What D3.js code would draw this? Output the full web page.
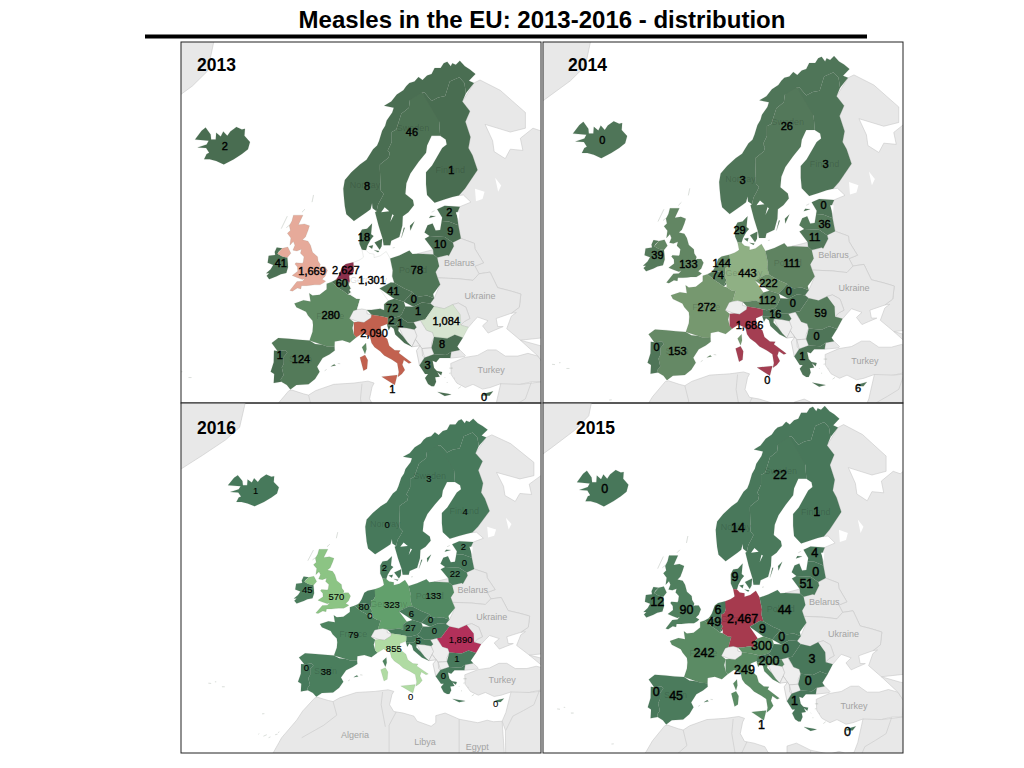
<!DOCTYPE html>
<html>
<head>
<meta charset="utf-8">
<title>Measles in the EU</title>
<script src="https://cdn.jsdelivr.net/npm/d3@7"></script>
<style>
    body { margin: 0; background: #fff; }
    svg { display: block; font-family: "Liberation Sans", Arial, sans-serif; }
</style>
</head>
<body>
<svg id="chart" width="1024" height="768"></svg>
<script>
// cases per country (null = no label shown)
const countries = ["Iceland", "Norway", "Sweden", "Finland", "Denmark", "Ireland", "UK", "Netherlands", "Belgium", "Luxembourg",
    "France", "Spain", "Portugal", "Germany", "Poland", "Czechia", "Slovakia", "Austria", "Hungary", "Slovenia", "Croatia",
    "Italy", "Romania", "Bulgaria", "Greece", "Estonia", "Latvia", "Lithuania", "Malta", "Cyprus"];
const cases2013 = [2, 8, 46, 1, 18, 41, 1669, 2627, 60, null, 280, 124, 1, 1301, 78, 41, 0, 72, 1, 2, 1, 2090, 1084, 8, 3, 2, 9, 10, 1, 0];
const cases2014 = [0, 3, 26, 3, 29, 39, 133, 144, 74, null, 272, 153, 0, 443, 111, 222, 0, 112, 0, null, 16, 1686, 59, 0, 1, 0, 36, 11, 0, 6];
const cases2015 = [0, 14, 22, 1, 9, 12, 90, 6, 49, null, 242, 45, 0, 2467, 44, 9, 0, 300, 0, null, 200, 249, 3, 0, 1, 4, 0, 51, 1, 0];
const cases2016 = [1, 0, 3, 4, 2, 45, 570, null, 80, 0, 79, 38, 0, 323, 133, 6, 0, 27, 0, null, 5, 855, 1890, 1, 0, 2, 0, 22, 0, 0];

// where each number sits on the map, lon / lat
const labelLon = [-18.6, 9.6, 18.5, 26.3, 9, -7.5, -1.3, 5.4, 4.6, 5.9, 2.4, -3.5, -7.7, 10.6, 19.5, 14.8, 18.9, 14.6, 19.7, 14.4, 16.2, 11, 25.3, 24.5, 21.6, 25.9, 26.1, 24.1, 14.6, 32.8];
const labelLat = [65, 61.4, 66.1, 62.9, 56.3, 53.4, 52.4, 52.5, 51, 49.7, 46.8, 40.6, 41.2, 51.3, 52.5, 50, 49, 47.8, 47.4, 46.2, 45.8, 44.4, 46, 42.8, 39.8, 58.9, 56.9, 55.5, 36, 34.8];

// map names printed in grey under the numbers
const greyNames = ["Belarus", "Ukraine", "Turkey", "Algeria", "Libya", "Egypt", "Iraq"];
const greyLon = [27.9, 32, 34.2, 2.7, 17.7, 28.9, 42.9];
const greyLat = [53.4, 49.4, 39, 28.6, 27.2, 26, 33.4];
const faintNames = ["Sweden", "Norway", "Finland", "Poland", "France", "Germany", "Spain"];
const faintLon = [18.7, 9.2, 26.1, 18.7, 2.3, 9.9, -3.6];
const faintLat = [66.4, 61.5, 62.9, 52.5, 46.8, 51.3, 40.6];

// country outlines, lon / lat rings
const iceland = [[[-24.5,65.5],[-23.2,66.2],[-22.4,66.45],[-21.4,65.9],[-21.3,65.5],[-20.4,65.5],[-20.3,66.05],[-19.4,65.75],[-18.9,66.15],[-18.1,65.8],[-17.5,66.15],[-16.3,66.5],[-15.2,66.3],[-14.6,66.35],[-14.7,65.8],[-13.6,65.3],[-14,64.7],[-15.2,64.3],[-16.8,63.85],[-18.8,63.4],[-20.3,63.7],[-21.6,63.85],[-22.7,63.85],[-22.2,64.3],[-21.7,64.4],[-22.3,64.8],[-24,64.85],[-22.2,65.1],[-21.8,65.4],[-22.8,65.5]]];
const noSeBorder = [[20.5,69.05],[20,68.4],[18.1,68.5],[17.9,67.95],[16.4,67.5],[15.4,66.3],[14.5,66.1],[14.5,65.3],[13.7,64.6],[14.1,64.4],[13.9,64],[12.15,63.4],[12.15,63],[12.3,61.05],[12.9,60.7],[12.5,60.3],[11.8,59.7],[11.5,59]];
const fiSeBorder = [[20.5,69.05],[23.6,67.9],[23.9,66.9],[24.1,65.8]];
const noFiBorder = [[20.5,69.05],[21,69.05],[22.4,68.45],[23.7,68.7],[25.1,68.8],[26,69.8],[27.9,70.08],[28.9,69.7],[29.2,69],[30.8,69.7]];
const norway = [[[7,58],[5.5,58.7],[5.2,59.5],[5,60.5],[4.9,61.2],[5.2,62],[6.5,62.7],[8.2,63.4],[9.5,63.8],[10.8,64.7],[11.6,65],[12,65.4],[12.6,66.2],[13.2,66.6],[13.5,67],[14.6,67.6],[14.9,67.95],[13,68.1],[14.4,68.4],[15.5,68.9],[16.8,69.2],[17.4,69.5],[18,69.7],[19,69.8],[19.8,70.1],[20.6,69.9],[21.5,70.2],[22.4,70.3],[23,70.7],[24.2,70.7],[24.8,71],[25.5,71.1],[26.2,70.8],[26.5,71],[27.2,70.9],[28,71.15],[29,70.8],[30,70.6],[31.1,70.3],[29.8,69.85],[30.8,69.7],
    ...noFiBorder.slice().reverse().slice(1), ...noSeBorder.slice(1), [10.7,59.3],[10.6,59.8],[10.3,59.2],[9.5,58.9],[8.2,58.1]]];
const sweden = [[...fiSeBorder, [22.4,65.8],[21.5,65],[21.3,64.4],[19.8,63.6],[18.2,62.6],[17.4,61.7],[17.2,60.7],[18.7,60.1],[18.9,59.6],[17.8,58.9],[16.7,58.5],[16.6,57.5],[16,56.3],[14.4,55.9],[14.2,55.4],[12.9,55.4],[12.7,56.1],[11.9,57.5],[11.2,58.9],
    ...noSeBorder.slice().reverse().slice(0, -1)], [[18.2,57],[18.1,57.5],[19,57.95],[18.8,57.4]], [[16.4,56.2],[16.9,57.3],[17.1,57.3],[16.5,56.2]]];
const finland = [[...noFiBorder.slice(0, -1), [28.5,68.4],[30,67.7],[29.1,66.9],[30.1,65.7],[29.7,64.8],[30.5,64.2],[31.5,62.9],[29,61.2],[27.8,60.55],[26.5,60.4],[24.9,60.15],[23,59.85],[21.5,60.6],[21.3,61.6],[21.3,62.7],[22.5,63.3],[24.5,64.8],[25.4,65.1],[25.2,65.5],
    ...fiSeBorder.slice().reverse().slice(0, -1)]];
const denmark = [[[8.1,55.55],[8.1,56.6],[8.6,57.1],[9.6,57.2],[10.6,57.75],[10.4,56.6],[10.9,56.4],[10.3,56],[9.7,55.4],[9.4,54.85],[8.6,54.9],[8.6,55.4]], [[11.1,55.7],[12.6,56.1],[12.5,55.3],[12.1,54.9],[11.2,55.2]], [[9.9,55.3],[10.8,55.4],[10.6,55],[10,55]], [[11,54.85],[12,54.75],[11.8,54.6],[11.1,54.7]], [[14.7,55.1],[15.1,55.15],[15,54.98]]];
const irishBorder = [[-7.2,55.05],[-7.9,54.7],[-8.15,54.45],[-7.3,54.15],[-6.6,54.05],[-6.2,54]];
const ireland = [[...irishBorder, [-6.1,53.4],[-6.05,52.9],[-6.4,52.2],[-7.5,52.05],[-8.3,51.8],[-9.8,51.45],[-10.3,51.85],[-9.8,52.15],[-10.4,52.15],[-9.5,52.65],[-9,53.15],[-10.1,53.4],[-9.9,54.2],[-8.6,54.3],[-8.7,54.65],[-8.3,55.15],[-7.3,55.35]]];
const uk = [[[-5.7,50.05],[-5.2,49.96],[-4.2,50.35],[-3.5,50.25],[-3.4,50.65],[-2.4,50.65],[-1.5,50.7],[-0.8,50.75],[0.3,50.75],[1,51],[1.4,51.2],[0.7,51.45],[1.3,51.8],[1.75,52.5],[1.3,52.95],[0.5,52.95],[0.2,52.85],[0.35,53.2],[-0.1,53.6],[-0.2,54.1],[-1.2,54.6],[-1.6,55.4],[-2.1,55.85],[-3.2,56],[-2.6,56.3],[-2.1,57],[-1.8,57.5],[-2.8,57.7],[-4,57.6],[-3.1,58.6],[-5,58.6],[-5.3,58],[-5.8,57.5],[-5.6,57],[-6.2,56.7],[-5.5,56.2],[-5.7,55.4],[-5,55.8],[-4.7,55.4],[-5.1,54.85],[-4.3,54.75],[-3.4,54.95],[-3.6,54.5],[-2.9,54.1],[-3.05,53.5],[-3.2,53.35],[-4.5,53.4],[-4.7,53.25],[-4.2,52.9],[-4.15,52.4],[-5.25,51.9],[-4.3,51.65],[-3.2,51.4],[-2.7,51.55],[-3.2,51.2],[-4.3,51.15],[-5.1,50.4]],
    [[-7.2,55.05],[-6.1,55.2],[-5.5,54.5],[-6.2,54],...irishBorder.slice(1, -1).reverse()], [[-7.4,57.2],[-6.2,58.5],[-6.9,58.3]], [[-1.3,59.9],[-1,60.6],[-1.5,60.4]], [[-3.3,58.9],[-2.7,59.2],[-3.2,59.1]], [[-6.4,57.3],[-5.7,57.6],[-5.9,57.1]]];
const netherlands = [[[3.4,51.37],[3.7,51.6],[4.1,52],[4.7,52.95],[5.4,53.25],[6.9,53.45],[7.2,53.2],[7,52.4],[6.7,52],[6.1,51.85],[6.2,51.2],[6,50.75],[5.85,51.15],[5,51.45],[4.3,51.35]]];
const belgium = [[[2.55,51.1],[3.4,51.37],[4.3,51.35],[5,51.45],[5.85,51.15],[6,50.75],[6.4,50.3],[6.1,50.1],[5.8,49.55],[4.85,50],[4.2,50.25],[3.2,50.75]]];
const luxembourg = [[[5.8,49.55],[6.1,50.1],[6.4,49.85],[6.4,49.45]]];
const france = [[[-1.8,43.35],[-1.2,44.6],[-1.1,45.5],[-1.2,46.1],[-2.1,46.8],[-2.5,47.3],[-4.4,47.9],[-4.8,48.4],[-3,48.8],[-1.6,48.65],[-1.85,49.7],[-1.2,49.4],[0.2,49.5],[1.6,50.2],[1.6,50.9],[2.55,51.1],[3.2,50.75],[4.2,50.25],[4.85,50],[5.8,49.55],[6.4,49.45],[7.5,49],[8.2,48.97],[7.6,47.6],[6.9,47.45],[6.1,46.4],[7,45.9],[6.7,45.1],[7,44.2],[7.5,43.8],[6.2,43.05],[4.7,43.4],[3.2,43.2],[3.15,42.45],[1.7,42.5],[0.7,42.75],[-0.7,42.85]],
    [[8.6,42.4],[9.4,43],[9.5,42.1],[9.2,41.4],[8.7,41.7]]];
const spain = [[[-9.3,43],[-8,43.7],[-5.8,43.6],[-3.8,43.45],[-1.8,43.35],[-0.7,42.85],[0.7,42.75],[1.7,42.5],[3.15,42.45],[3.2,41.9],[2.2,41.35],[0.8,40.8],[-0.3,39.5],[0.2,38.75],[-0.7,37.65],[-2,36.8],[-4.4,36.7],[-5.6,36],[-6.3,36.7],[-7.4,37.2],[-7.5,37.6],[-6.95,38.2],[-7.3,39.4],[-6.9,40],[-6.9,41],[-6.2,41.6],[-6.6,41.95],[-8.15,41.85],[-8.85,41.9]],
    [[2.4,39.55],[3.1,39.9],[3.4,39.7],[3,39.3]], [[3.8,40],[4.3,39.95],[3.9,39.9]], [[1.2,38.9],[1.6,39.1],[1.5,38.9]], [[-18,28.7],[-17.8,28.8],[-17.8,28.5]], [[-16.9,28.3],[-16.2,28.6],[-16.6,28]], [[-15.8,28],[-15.4,28.15],[-15.5,27.8]], [[-14.4,28.6],[-13.9,28.7],[-14.2,28.1]], [[-13.8,29],[-13.5,29.2],[-13.6,28.9]]];
const portugal = [[[-8.85,41.9],[-8.15,41.85],[-6.6,41.95],[-6.2,41.6],[-6.9,41],[-6.9,40],[-7.3,39.4],[-6.95,38.2],[-7.5,37.6],[-7.4,37.2],[-8.9,37],[-8.8,38.4],[-9.5,38.75],[-8.9,40.2],[-8.7,41]],
    [[-28.7,38.5],[-28.1,38.45],[-28.5,38.4]], [[-25.8,37.85],[-25.2,37.85],[-25.5,37.72]], [[-27.3,38.75],[-27,38.75],[-27.1,38.65]], [[-17.2,32.75],[-16.7,32.78],[-16.9,32.63]]];
const germany = [[[6.9,53.45],[8,53.7],[8.6,53.9],[8.9,54.05],[8.6,54.9],[9.4,54.85],[10,54.5],[11,54.4],[11,54],[12.2,54.2],[13.4,54.7],[14.2,53.9],[14.4,53.3],[14.7,52.5],[14.6,51.8],[15,51],[14.3,51.05],[12.1,50.3],[13.8,48.75],[13,48.3],[13,47.5],[12.2,47.7],[10.5,47.55],[9.6,47.55],[8.6,47.7],[7.6,47.6],[8.2,48.97],[7.5,49],[6.4,49.45],[6.4,49.85],[6.1,50.1],[6.4,50.3],[6,50.75],[6.2,51.2],[6.1,51.85],[6.7,52],[7,52.4],[7.2,53.2]]];
const poland = [[[14.2,53.9],[16,54.25],[18,54.8],[18.6,54.4],[19.6,54.45],[22.8,54.35],[23.5,54],[23.9,53],[23.2,52.3],[23.6,51.6],[24.1,50.8],[22.7,49.6],[22.9,49.05],[21.5,49.4],[20,49.3],[19,49.45],[18.6,49.85],[17,50.3],[15,51],[14.6,51.8],[14.7,52.5],[14.4,53.3]]];
const czechia = [[[12.1,50.3],[14.3,51.05],[15,51],[17,50.3],[18.6,49.85],[17.2,48.85],[16.9,48.6],[15,49],[13.8,48.75]]];
const slovakia = [[[16.9,48.6],[17.2,48.85],[18.6,49.85],[19,49.45],[20,49.3],[21.5,49.4],[22.9,49.05],[22.15,48.4],[20.5,48.5],[18.8,47.95],[17.2,48]]];
const austria = [[[9.6,47.55],[10.5,47.55],[12.2,47.7],[13,47.5],[13,48.3],[13.8,48.75],[15,49],[16.9,48.6],[17.2,48],[16.5,47],[16,46.7],[14.5,46.4],[12.4,46.7],[10.5,46.9],[9.6,47.05]]];
const hungary = [[[16,46.7],[16.5,47],[17.2,48],[18.8,47.95],[20.5,48.5],[22.15,48.4],[22.9,48],[21.1,46.25],[20.2,46.15],[18.8,45.9],[17.6,45.9],[16.4,46.5]]];
const slovenia = [[[13.7,46.5],[14.5,46.4],[16,46.7],[16.4,46.5],[15.3,45.5],[13.6,45.5],[13.7,45.7]]];
const croatia = [[[13.6,45.5],[15.3,45.5],[16.4,46.5],[17.6,45.9],[18.8,45.9],[19.4,45.2],[19,44.9],[17.5,45.1],[15.9,45.2],[15.8,44.7],[16.8,43.9],[17.6,43.1],[18.5,42.45],[17,43],[15.2,44.2],[14.9,45],[14.3,45.3],[13.9,44.8],[13.55,45.2]]];
const italy = [[[7,45.9],[7.9,45.95],[9,45.85],[10.4,46.5],[10.5,46.9],[12.4,46.7],[13.7,46.5],[13.7,45.7],[12.3,45.3],[12.4,44.3],[13.6,43.55],[14,42.6],[15.1,41.95],[16.2,41.9],[15.9,41.55],[18.4,40.15],[17.9,40],[16.9,40.5],[16.6,39.8],[17.1,39],[16.5,38.4],[15.7,37.95],[15.9,38.7],[15.6,40.05],[14.5,40.6],[13,41.2],[12.2,41.8],[11.1,42.4],[10.5,43],[10.2,43.9],[8.8,44.4],[7.5,43.8],[7,44.2],[6.7,45.1]],
    [[12.5,38],[15.6,38.25],[15.1,36.7],[12.5,37.6]], [[8.2,40.9],[9.2,41.25],[9.75,40.5],[9.6,39.2],[8.9,38.9],[8.4,39.2]]];
const romania = [[[20.25,46.15],[21.1,46.25],[22.9,48],[24.9,47.7],[26.6,48.25],[28.1,46.9],[28.2,45.5],[29.7,45.2],[28.6,43.75],[27,44.15],[25.5,43.65],[22.9,43.85],[22.6,44.5],[21.4,44.8],[20.75,45.5]]];
const bulgaria = [[[22.9,43.85],[25.5,43.65],[27,44.15],[28.6,43.75],[27.5,42.5],[28,42],[26.3,41.75],[25.3,41.25],[22.9,41.35],[22.4,42.3],[22.4,43]]];
const greece = [[[20,39.7],[21,40.85],[22.9,41.35],[25.3,41.25],[26.3,41.75],[26.1,40.8],[24,40.8],[23.3,40.2],[22.6,40.4],[22.9,39.3],[23.4,38.9],[24,38],[23.1,37.9],[23.3,37.2],[22.9,36.5],[22.4,36.5],[21.7,36.85],[21.1,37.8],[21.7,38.4],[21.1,38.4],[20.7,38.9]],
    [[23.6,35.6],[25.7,35.3],[26.3,35.2],[25,34.95],[23.6,35.25]], [[27.7,36.15],[28.2,36.45],[28.1,36.05]], [[23.2,38.9],[24.5,38.7],[24.3,38.2],[23.6,38.5]], [[25.9,39.3],[26.6,39.3],[26.3,39]], [[25.9,38.5],[26.2,38.55],[26,38.2]], [[25.4,37.1],[25.6,37.1],[25.5,36.95]], [[26.9,37.8],[27,37.75],[26.6,37.65]], [[25,37.9],[25.1,37.8],[24.8,37.75]]];
const estonia = [[[23.5,59.2],[25,59.55],[28,59.45],[27.4,58.75],[27.7,57.55],[25.8,57.95],[24.4,58],[24.5,58.35],[23.5,58.7]], [[21.9,58.3],[22.2,58.55],[23.2,58.5],[22.6,58]], [[22.4,58.9],[23,59.05],[23,58.8]]];
const latvia = [[[21,56.8],[21.6,57.55],[22.6,57.75],[23.2,57],[24.1,57.05],[24.4,58],[25.8,57.95],[27.7,57.55],[28.2,56.15],[26.6,55.7],[25,56.3],[22,56.4],[21.05,56.1]]];
const lithuania = [[[21.05,56.1],[22,56.4],[25,56.3],[26.6,55.7],[26.8,55.3],[25.8,54.2],[25.5,54.3],[23.5,54],[22.8,54.35],[22.7,54.9],[21.2,55.2]]];
const malta = [[[14.2,36.08],[14.6,35.88],[14.3,35.85]]];
const cyprus = [[[32.3,35.05],[33,35.35],[34.6,35.7],[33.9,35],[33,34.6]]];

const outlines = [iceland, norway, sweden, finland, denmark, ireland, uk, netherlands, belgium, luxembourg, france, spain, portugal, germany, poland, czechia, slovakia, austria, hungary, slovenia, croatia, italy, romania, bulgaria, greece, estonia, latvia, lithuania, malta, cyprus];

// grey land around the EU
const backgroundLand = [
    [[-60,85],[-18,80],[-18,76],[-21,72],[-22,70.5],[-25,69.5],[-30,68.2],[-40,65.5],[-60,60]],
    [[30.8,69.7],[32,69.9],[36,69.2],[41,67.6],[41,66.4],[38,66.1],[33,66.7],[34.5,65.4],[34.8,64.5],[37,63.9],[38,64.7],[40.5,64.6],[40,65.6],[42.5,66.4],[44,66.2],[46,66.8],[50,68],[50,44],[48,44],[40,43.4],[37.3,45],[38.2,46.7],[39.2,47.2],[38.2,47.1],[39.8,47.9],[40.1,49.6],[38,50],[35.5,50.4],[34,52.3],[31.8,52.1],[31,53],[32.7,53.4],[31,55],[30.9,55.6],[28.2,56.15],[27.7,57.55],[27.4,58.75],[28,59.45],[30.2,59.9],[28.7,60.6],[27.8,60.55],[29,61.2],[31.5,62.9],[30.5,64.2],[29.7,64.8],[30.1,65.7],[29.1,66.9],[30,67.7],[28.5,68.4],[29.2,69]],
    [[23.5,54],[25.5,54.3],[25.8,54.2],[26.8,55.3],[26.6,55.7],[28.2,56.15],[30.9,55.6],[31,55],[32.7,53.4],[31,53],[31.8,52.1],[30.6,51.3],[27.7,51.5],[24.1,51.6],[23.6,51.6],[23.2,52.3],[23.9,53]],
    [[24.1,50.8],[23.6,51.6],[24.1,51.6],[27.7,51.5],[30.6,51.3],[31.8,52.1],[34,52.3],[35.5,50.4],[38,50],[40.1,49.6],[39.8,47.9],[38.2,47.1],[35.2,46.4],[35.5,45.3],[36.6,45.3],[34.9,44.8],[33.6,44.4],[32.5,45.4],[33.6,46.1],[31.5,46.6],[30.7,46],[29.7,45.2],[28.2,45.5],[28.9,46],[30,46.4],[29.2,47.9],[27.7,48.45],[26.6,48.25],[24.9,47.7],[22.9,48],[22.15,48.4],[22.9,49.05],[22.7,49.6]],
    [[26.6,48.25],[27.7,48.45],[29.2,47.9],[30,46.4],[28.9,46],[28.2,45.5],[28.1,46.9]],
    [[19.6,54.45],[22.8,54.35],[22.7,54.9],[21.2,55.2]],
    [[26.1,40.8],[26.3,41.75],[28,42],[29.1,41.2],[28.9,41],[27.5,41]],
    [[26.2,40],[29,40.9],[31.5,41.2],[33.5,42],[35.2,42],[37,41.1],[39.5,41.1],[41.5,41.5],[43.5,41.1],[44.8,39.7],[44.4,37.2],[42.2,37.2],[40,36.8],[36.7,36.25],[36.1,36.9],[34,36.3],[32.5,36.05],[30.6,36.8],[29.1,36.3],[27.4,37],[26.3,38.3],[26.8,39.2]],
    [[40,43.4],[44,42.6],[48,42],[48,38],[44.8,39.7],[43.5,41.1],[41.5,41.5]],
    [[36.1,36.9],[40,36.8],[44.4,37.2],[48,38],[48,20],[35,20],[34.9,29.5],[34.2,31.3],[35,33],[35.9,35.2]],
    [[-5.9,35.8],[-5.3,35.9],[-3,35.3],[-2,35.1],[-0.6,35.8],[3,36.8],[7,37],[9.8,37.3],[11,37],[10.6,36.4],[10.1,34.5],[11,33.2],[13,32.9],[15.3,32.3],[16,31.3],[19,30.3],[20,31],[20,32.4],[22,32.9],[25,31.7],[29,31],[31,31.5],[32.3,31.2],[34.2,31.3],[35,20],[-17,20],[-17,21],[-13,28],[-9.8,31.5],[-8.5,33.3],[-6.8,34.1]]
];
const balkanLand = [
    [[6.1,46.4],[6.9,47.45],[7.6,47.6],[8.6,47.7],[9.6,47.55],[9.6,47.05],[10.5,46.9],[10.4,46.5],[9,45.85],[7.9,45.95],[7,45.9]],
    [[19,44.9],[19.4,45.2],[18.8,45.9],[20.2,46.15],[20.75,45.5],[21.4,44.8],[22.6,44.5],[22.9,43.85],[22.4,43],[22.4,42.3],[21.5,42.25],[20.5,42.2],[20.1,42.6],[19.2,43.5],[19.5,44]],
    [[15.9,45.2],[17.5,45.1],[19,44.9],[19.5,44],[19.2,43.5],[18.5,42.45],[17.6,43.1],[16.8,43.9],[15.8,44.7]],
    [[18.5,42.45],[19.2,43.5],[20.1,42.6],[19.4,41.9]],
    [[19.4,41.9],[20.1,42.6],[20.5,42.2],[20.6,41.1],[21,40.85],[20,39.7],[19.3,40.6]],
    [[20.5,42.2],[21.5,42.25],[22.4,42.3],[22.9,41.35],[21,40.85],[20.6,41.1]]
];
const lakes = [
    [[12.4,58.9],[13.1,59.4],[14,59],[13.2,58.6]],
    [[14.2,57.9],[14.6,58.7],[14.9,58.6],[14.4,57.8]],
    [[27.2,58.9],[27.9,58.9],[27.8,58],[27.4,58]],
    [[31,61.2],[32.9,60.9],[32.5,60.2],[31.2,60],[30.9,60.7]],
    [[35,62.2],[36.2,61.5],[35.6,60.9],[34.9,61.4]]
];
const africaBorders = [
    [[-2,35.1],[-1.2,32.5],[-4,30.5],[-8.7,28]],
    [[8.6,36.9],[8.3,34.5],[9.2,30.2]],
    [[11.5,33.1],[10,30.5],[10,25]],
    [[25,31.7],[25,20]],
    [[42.2,37.2],[41,34.5],[38.8,33.4],[36.5,32.3],[35,29.5]]
];

const years = ["2013", "2014", "2016", "2015"];
const seriesByYear = [cases2013, cases2014, cases2016, cases2015];

// one box per map. x0/kx and y0/ky stretch the mercator to fit, every map is scaled a bit differently
const panels = [
    { left: 181, top: 42, w: 360, h: 361, titleX: 197, titleY: 71, font: 11, x0: 318.6, kx: 289, y0: 587, ky: 293,
        domain: [0, 280, 1084, 1301, 1669, 2090, 2627], range: ["#496d51", "#5f8a63", "#d6e4d0", "#ffffff", "#e6aa9a", "#c2614f", "#8c2f4c"] },
    { left: 543, top: 42, w: 360, h: 361, titleX: 568, titleY: 71, font: 11, x0: 694.8, kx: 285, y0: 575, ky: 289,
        domain: [0, 272, 443, 1686], range: ["#4f7558", "#76986f", "#8fb084", "#a43e52"] },
    { left: 181, top: 403, w: 360, h: 350, titleX: 197, titleY: 434, font: 9.5, x0: 342.4, kx: 267.6, y0: 864, ky: 248,
        domain: [0, 323, 570, 855, 1890], range: ["#47795b", "#62a06c", "#8cc484", "#b0dba3", "#b2305a"] },
    { left: 543, top: 403, w: 360, h: 350, titleX: 576, titleY: 434, font: 12.5, x0: 692.6, kx: 270.4, y0: 916, ky: 284,
        domain: [0, 300, 2467], range: ["#48775a", "#5f9066", "#a63a4e"] }
];

const svg = d3.select("#chart");
const mercator = d3.geoMercator().scale(1).translate([0, 0]);

svg.append("text")
    .attr("x", 542).attr("y", 28)
    .attr("text-anchor", "middle")
    .attr("font-size", 24).attr("font-weight", "bold")
    .text("Measles in the EU: 2013-2016 - distribution");
svg.append("line")
    .attr("x1", 145).attr("x2", 867).attr("y1", 36.5).attr("y2", 36.5)
    .attr("stroke", "#000").attr("stroke-width", 4);

function drawPanel(panel, i) {
    const values = seriesByYear[i];
    const color = d3.scaleLinear().domain(panel.domain).range(panel.range);
    const place = (lon, lat) => {
        const p = mercator([lon, lat]);
        return [panel.x0 + p[0] * panel.kx, panel.y0 + p[1] * panel.ky];
    };
    const path = d3.geoPath(d3.geoTransform({
        point(lon, lat) {
            const p = place(lon, lat);
            this.stream.point(p[0], p[1]);
        }
    }));
    // a map name only shows when it fits in the box
    const fits = (lon, lat) => {
        const p = place(lon, lat);
        return p[0] + 8 < panel.left + panel.w && p[1] + 4 < panel.top + panel.h;
    };

    svg.append("clipPath").attr("id", `clip${i}`)
        .append("rect")
        .attr("x", panel.left).attr("y", panel.top)
        .attr("width", panel.w).attr("height", panel.h);

    const g = svg.append("g").attr("clip-path", `url(#clip${i})`);
    // the source maps are soft screenshots, a touch of blur hides the polygon corners
    const shapes = g.append("g").style("filter", "blur(0.4px)");

    shapes.selectAll("path.land")
        .data(backgroundLand)
        .enter().append("path")
        .attr("class", "land")
        .attr("d", (d) => path({ type: "Polygon", coordinates: [d] }))
        .attr("fill", "#e8e8e8").attr("stroke", "#c8c8c8").attr("stroke-width", 0.6);

    shapes.selectAll("path.balkan")
        .data(balkanLand)
        .enter().append("path")
        .attr("class", "balkan")
        .attr("d", (d) => path({ type: "Polygon", coordinates: [d] }))
        .attr("fill", "#eeeeee").attr("stroke", "#bdbdbd").attr("stroke-width", 0.6);

    shapes.selectAll("path.border")
        .data(africaBorders)
        .enter().append("path")
        .attr("class", "border")
        .attr("d", (d) => path({ type: "LineString", coordinates: d }))
        .attr("fill", "none").attr("stroke", "#c8c8c8").attr("stroke-width", 0.6);

    shapes.selectAll("path.country")
        .data(countries)
        .enter().append("path")
        .attr("class", "country")
        .attr("d", (d, j) => path({ type: "MultiPolygon", coordinates: outlines[j].map((ring) => [ring]) }))
        .attr("fill", (d, j) => color(values[j] === null ? 0 : values[j]))
        .attr("stroke", "#5d6f60").attr("stroke-opacity", 0.3).attr("stroke-width", 0.4);

    shapes.selectAll("path.lake")
        .data(lakes)
        .enter().append("path")
        .attr("class", "lake")
        .attr("d", (d) => path({ type: "Polygon", coordinates: [d] }))
        .attr("fill", "#fff");

    const greyShown = greyNames.map((c, j) => j).filter((j) => fits(greyLon[j], greyLat[j]));
    g.selectAll("text.grey")
        .data(greyShown)
        .enter().append("text")
        .attr("class", "grey")
        .attr("x", (j) => place(greyLon[j], greyLat[j])[0])
        .attr("y", (j) => place(greyLon[j], greyLat[j])[1] + 3)
        .attr("text-anchor", "middle")
        .attr("font-size", 9).attr("fill", "#a3a3a3")
        .text((j) => greyNames[j]);

    g.selectAll("text.faint")
        .data(faintNames)
        .enter().append("text")
        .attr("class", "faint")
        .attr("x", (d, j) => place(faintLon[j], faintLat[j])[0])
        .attr("y", (d, j) => place(faintLon[j], faintLat[j])[1] + 3)
        .attr("text-anchor", "middle")
        .attr("font-size", 9).attr("fill", "#000").attr("fill-opacity", 0.16)
        .text((d) => d);

    const labelled = countries.map((c, j) => j).filter((j) => values[j] !== null);
    g.selectAll("text.value")
        .data(labelled)
        .enter().append("text")
        .attr("class", "value")
        .attr("x", (j) => place(labelLon[j], labelLat[j])[0])
        .attr("y", (j) => place(labelLon[j], labelLat[j])[1] + panel.font * 0.36)
        .attr("text-anchor", "middle")
        .attr("font-size", panel.font)
        .attr("fill", "#000").attr("stroke", "#000").attr("stroke-width", i === 2 ? 0.1 : 0.4)
        .text((j) => d3.format(",")(values[j]));

    svg.append("rect")
        .attr("x", panel.left).attr("y", panel.top)
        .attr("width", panel.w).attr("height", panel.h)
        .attr("fill", "none").attr("stroke", "#222").attr("stroke-width", 1);

    svg.append("text")
        .attr("x", panel.titleX).attr("y", panel.titleY)
        .attr("font-size", 17.5).attr("font-weight", "bold")
        .text(years[i]);
}

panels.forEach(drawPanel);
</script>
</body>
</html>
